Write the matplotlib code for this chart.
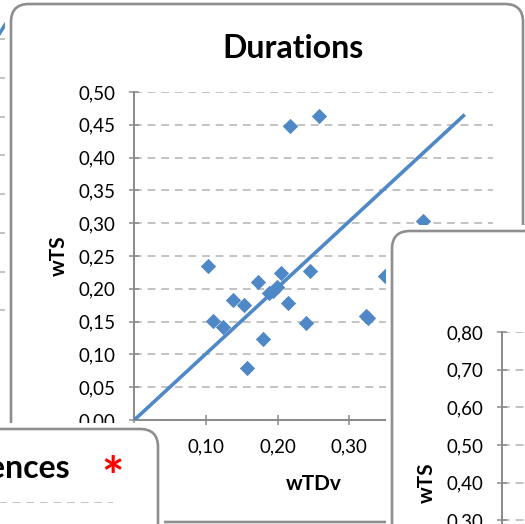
import numpy as np
import matplotlib.pyplot as plt
from matplotlib.patches import FancyBboxPatch
from matplotlib.ticker import FuncFormatter, MultipleLocator

plt.rcParams['font.family'] = ['Lato', 'DejaVu Sans']

# Durations scatter: wTDv vs wTS
wtdv = [0.103, 0.110, 0.124, 0.138, 0.153, 0.157, 0.173, 0.180, 0.188, 0.194, 0.199,
        0.205, 0.214, 0.239, 0.245, 0.326, 0.323, 0.350, 0.217, 0.257, 0.403]
wts = [0.235, 0.151, 0.142, 0.183, 0.176, 0.079, 0.211, 0.123, 0.194, 0.196, 0.202,
       0.224, 0.179, 0.148, 0.227, 0.156, 0.159, 0.219, 0.448, 0.464, 0.303]
trend_slope = 1.01
trend_x = [0.0, 0.461]

# chart sitting behind on the left
bg_levels = [0.2, 0.3, 0.4, 0.5, 0.6, 0.7, 0.8, 0.9]
bg_trend_x = [0.50, 0.92]
bg_trend_y = [0.388, 0.968]

# chart below on the right
right_ticks = [0.0, 0.1, 0.2, 0.3, 0.4, 0.5, 0.6, 0.7, 0.8]

W, H = 525, 524
BLUE = '#4f88c6'
GRID = '#c3c3c3'
AXC = '#8a8a8a'

fig = plt.figure(figsize=(W / 100, H / 100), dpi=100)


def fbox(x0, y0, x1, y1):
    # pixel box (origin top-left) -> figure fraction rect
    return [x0 / W, 1 - y1 / H, (x1 - x0) / W, (y1 - y0) / H]


def panel(x0, y0, x1, y1, z, r=18, margin=6):
    xy = (x0 / W, 1 - y1 / H)
    w, h = (x1 - x0) / W, (y1 - y0) / H
    white = FancyBboxPatch(xy, w, h, boxstyle=f"round,pad={margin / W},rounding_size={(r + margin) / W}",
                           transform=fig.transFigure, fc='white', ec='none', zorder=z)
    border = FancyBboxPatch(xy, w, h, boxstyle=f"round,pad=0,rounding_size={r / W}",
                            transform=fig.transFigure, fc='none', ec='#8e8e8e', lw=1.9, zorder=z + 0.1)
    fig.patches.extend([white, border])


comma = FuncFormatter(lambda v, p: f"{v:.2f}".replace('.', ','))


def style_axes(ax):
    ax.patch.set_visible(False)
    for s in ['top', 'right']:
        ax.spines[s].set_visible(False)
    for s in ['left', 'bottom']:
        ax.spines[s].set_color(AXC)
        ax.spines[s].set_linewidth(1.4)
    ax.tick_params(direction='inout', length=7, width=1.1, color=AXC,
                   labelsize=13.5, pad=10, labelcolor='black')
    ax.yaxis.grid(True, color=GRID, linestyle=(0, (4, 3)), linewidth=1.4)
    ax.set_axisbelow(True)


# background chart (left edge)
bg = fig.add_axes(fbox(-300, 0.2, 40, 388))
bg.set_zorder(0)
bg.set_xlim(0, 1)
bg.set_ylim(0, 1)
bg.set_yticks(bg_levels)
bg.yaxis.grid(True, color=GRID, linestyle=(0, (4, 3)), linewidth=1.4)
bg.tick_params(length=0, labelleft=False, labelbottom=False)
for s in bg.spines.values():
    s.set_visible(False)
bg.plot(bg_trend_x, bg_trend_y, color=BLUE, lw=2.5)

# Durations panel
panel(11, 4, 523, 522, z=1)
ax = fig.add_axes(fbox(134.3, 92, 492.7, 420))
ax.set_zorder(2)
style_axes(ax)
ax.set_xlim(0, 0.5)
ax.set_ylim(0, 0.5)
ax.xaxis.set_major_locator(MultipleLocator(0.1))
ax.yaxis.set_major_locator(MultipleLocator(0.05))
ax.xaxis.set_major_formatter(comma)
ax.yaxis.set_major_formatter(comma)
ax.scatter(wtdv, wts, marker='D', s=7.8 ** 2, color=BLUE, linewidths=0, zorder=3, clip_on=False)
tx = np.array(trend_x)
ax.plot(tx, trend_slope * tx, color=BLUE, lw=2.6, zorder=4, solid_capstyle='butt')
ax.set_xlabel('wTDv', fontsize=15, fontweight='bold', labelpad=13)
ax.set_ylabel('wTS', fontsize=15, fontweight='bold', labelpad=7)
t = fig.text(293 / W, 1 - 58 / H, 'Durations', ha='center', va='baseline',
             fontsize=23, fontweight='bold')
t.set_zorder(2.5)

# lower left panel
panel(-40, 429, 158, 620, z=3)
axl = fig.add_axes(fbox(-250, 502, 113, 700))
axl.set_zorder(4)
axl.patch.set_visible(False)
axl.set_ylim(0, 1)
axl.set_yticks([1.0])
axl.yaxis.grid(True, color=GRID, linestyle=(0, (4, 3)), linewidth=1.4)
axl.tick_params(length=0, labelleft=False, labelbottom=False)
for s in axl.spines.values():
    s.set_visible(False)
t1 = fig.text(70 / W, 1 - 478 / H, 'ences', ha='right', va='baseline', fontsize=23, fontweight='bold')
t2 = fig.text(113 / W, 1 - 496 / H, '*', ha='center', va='baseline', fontsize=38,
              fontweight='bold', color='red')
t1.set_zorder(4.5)
t2.set_zorder(4.5)

# lower right panel
panel(392, 231, 640, 640, z=5)
axr = fig.add_axes(fbox(502, 332, 800, 633))
axr.set_zorder(6)
style_axes(axr)
axr.set_ylim(0, 0.8)
axr.set_yticks(right_ticks)
axr.yaxis.set_major_formatter(comma)
axr.set_xticks([])
axr.set_ylabel('wTS', fontsize=15, fontweight='bold', labelpad=7)

fig.savefig('out.png', dpi=100)
